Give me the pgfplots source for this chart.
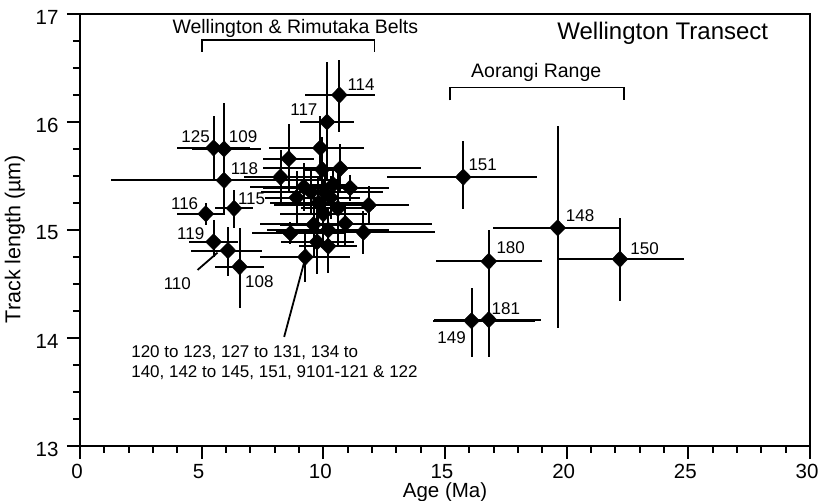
\documentclass[border=0pt]{standalone}
\usepackage{fontspec}
\setmainfont{Liberation Sans}
\usepackage{pgfplots}
\usepackage{pgfplotstable}
\pgfplotsset{compat=1.18}
\newcommand{\lbl}{\fontsize{17}{20}\selectfont}
\pgfplotstableread{
x y xm xp ym yp
5.49 15.76 1.5 1.5 0.30 0.30
5.92 15.75 1.3 1.5 0.40 0.43
5.92 15.46 4.65 4.65 0.30 0.30
5.17 15.15 1.17 0.8 0.10 0.10
6.33 15.20 0.8 0.8 0.18 0.17
5.49 14.89 1.0 1.0 0.14 0.20
6.08 14.81 1.5 1.4 0.24 0.22
6.56 14.66 1.0 1.0 0.38 0.36
10.66 16.25 1.4 1.45 0.34 0.32
10.15 16.00 1.1 1.1 0.55 0.56
9.88 15.76 2.1 1.8 0.30 0.30
8.58 15.66 1.05 1.05 0.32 0.32
10.70 15.57 3.2 3.3 0.23 0.23
9.95 15.56 0.8 0.8 0.30 0.30
8.24 15.49 1.5 1.5 0.25 0.25
11.10 15.39 3.6 1.6 0.12 0.12
11.86 15.23 3.9 1.65 0.18 0.18
10.90 15.06 3.5 3.55 0.20 0.20
11.65 14.98 3.6 2.95 0.20 0.20
8.65 14.97 1.6 2.3 0.10 0.10
9.74 14.89 1.5 1.5 0.30 0.30
9.26 14.75 1.85 1.85 0.23 0.23
10.20 14.85 1.2 1.2 0.25 0.25
9.50 15.35 1.5 1.5 0.20 0.20
9.80 15.25 2.0 2.0 0.25 0.25
10.30 15.30 1.2 1.2 0.20 0.20
10.00 15.15 1.8 1.8 0.30 0.30
10.40 15.42 0.9 0.9 0.15 0.15
9.60 15.05 1.4 1.4 0.30 0.30
10.20 15.00 2.5 2.5 0.20 0.20
8.90 15.30 1.3 1.3 0.25 0.25
10.60 15.20 1.5 1.5 0.35 0.35
9.20 15.40 2.2 2.2 0.22 0.22
10.05 15.35 2.6 2.4 0.18 0.18
15.75 15.49 3.15 3.05 0.30 0.33
19.63 15.02 2.66 2.53 0.93 0.94
22.19 14.73 2.49 2.63 0.39 0.38
16.80 14.71 2.17 2.2 0.54 0.29
16.80 14.17 2.27 2.15 0.35 0.30
16.09 14.16 1.6 2.6 0.34 0.30
}\data
\begin{document}
\begin{tikzpicture}
\begin{axis}[
  scale only axis, width=730pt, height=432pt,
  xmin=0, xmax=30, ymin=13, ymax=17,
  xtick={0,5,...,30}, ytick={13,14,15,16,17},
  minor x tick num=4, minor y tick num=3,
  tick pos=left, tick align=outside,
  major tick length=13pt, minor tick length=7pt,
  every tick/.style={line width=1.8pt, black},
  axis line style={line width=2.6pt},
  /pgf/number format/assume math mode=true,
  ticklabel style={font=\fontsize{20.5}{22}\selectfont},
  xticklabel style={yshift=-2pt, xshift=-3pt},
  yticklabel style={xshift=-5pt, yshift=-3pt},
  xlabel={Age (Ma)}, ylabel={Track length (\textmu m)},
  label style={font=\fontsize{21.5}{23}\selectfont},
  xlabel style={at={(axis cs:15,13)}, anchor=north, inner sep=0pt, yshift=-36pt, font=\fontsize{20.5}{22}\selectfont},
  ylabel style={at={(ticklabel cs:0.479)}, yshift=4pt},
  clip=false,
]
\addplot[only marks, mark=diamond*, mark size=8.2pt, mark options={xscale=1.3, fill=black, draw=black},
  error bars/.cd, x dir=both, x explicit, y dir=both, y explicit, error mark=none,
  error bar style={line width=2pt, black}]
  table[x=x, y=y, x error minus=xm, x error plus=xp, y error minus=ym, y error plus=yp]{\data};
% brackets
\draw[line width=1.8pt] (axis cs:5.03,16.65) -- (axis cs:5.03,16.76) -- (axis cs:12.1,16.76) -- (axis cs:12.1,16.65);
\draw[line width=1.8pt] (axis cs:15.19,16.20) -- (axis cs:15.19,16.32) -- (axis cs:22.35,16.32) -- (axis cs:22.35,16.20);
\node[font=\fontsize{19.5}{21}\selectfont] at (axis cs:8.85,16.87) {Wellington \& Rimutaka Belts};
\node[font=\fontsize{19.5}{21}\selectfont] at (axis cs:18.75,16.46) {Aorangi Range};
\node[font=\fontsize{24}{26}\selectfont] at (axis cs:23.95,16.82) {Wellington Transect};
% pointers
\draw[line width=1.8pt] (axis cs:9.33,14.80) -- (axis cs:8.39,14.01);
\draw[line width=1.8pt] (axis cs:5.65,14.79) -- (axis cs:4.83,14.63);
\node[font=\lbl, align=left, anchor=north west, inner sep=0pt] at (axis cs:2.1,13.93) {120 to 123, 127 to 131, 134 to\\140, 142 to 145, 151, 9101-121 \& 122};
% point labels
\node[font=\lbl] at (axis cs:4.75,15.86) {125};
\node[font=\lbl] at (axis cs:6.7,15.86) {109};
\node[font=\lbl] at (axis cs:6.76,15.57) {118};
\node[font=\lbl] at (axis cs:4.3,15.24) {116};
\node[font=\lbl] at (axis cs:7.05,15.29) {115};
\node[font=\lbl] at (axis cs:4.55,14.97) {119};
\node[font=\lbl] at (axis cs:4.0,14.5) {110};
\node[font=\lbl] at (axis cs:7.37,14.52) {108};
\node[font=\lbl] at (axis cs:11.55,16.35) {114};
\node[font=\lbl] at (axis cs:9.2,16.11) {117};
\node[font=\lbl] at (axis cs:16.55,15.6) {151};
\node[font=\lbl] at (axis cs:20.55,15.13) {148};
\node[font=\lbl] at (axis cs:23.2,14.83) {150};
\node[font=\lbl] at (axis cs:17.7,14.84) {180};
\node[font=\lbl] at (axis cs:17.5,14.27) {181};
\node[font=\lbl] at (axis cs:15.27,14.0) {149};
\end{axis}
\pgfresetboundingbox
\path ([shift={(-80pt,-55pt)}]current axis.south west) rectangle ([shift={(8pt,14pt)}]current axis.north east);
\end{tikzpicture}
\end{document}
